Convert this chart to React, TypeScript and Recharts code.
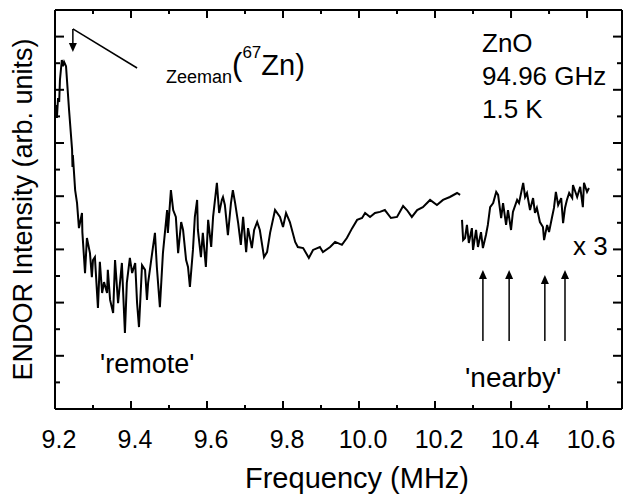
import React from 'react';
import { ComposedChart, Line, XAxis, YAxis, ReferenceLine, ReferenceDot } from 'recharts';

const FONT = '"Liberation Sans", Arial, Helvetica, sans-serif';

// 'remote' part of the ENDOR spectrum (MHz, arb. units)
const remoteFreq = [
  9.203, 9.205, 9.208, 9.211, 9.213, 9.218, 9.221, 9.224, 9.229, 9.237,
  9.245, 9.246, 9.247, 9.253, 9.258, 9.263, 9.271, 9.272, 9.279, 9.284,
  9.292, 9.297, 9.300, 9.305, 9.313, 9.318, 9.324, 9.329, 9.337, 9.339,
  9.345, 9.353, 9.358, 9.366, 9.376, 9.384, 9.389, 9.397, 9.403, 9.411,
  9.416, 9.421, 9.429, 9.437, 9.442, 9.445, 9.455, 9.463, 9.468, 9.476,
  9.484, 9.495, 9.497, 9.505, 9.511, 9.518, 9.524, 9.532, 9.537, 9.545,
  9.550, 9.555, 9.563, 9.568, 9.574, 9.576, 9.584, 9.589, 9.597, 9.603,
  9.611, 9.616, 9.626, 9.632, 9.639, 9.642, 9.647, 9.655, 9.663, 9.668,
  9.674, 9.682, 9.689, 9.695, 9.703, 9.708, 9.718, 9.724, 9.732, 9.739,
  9.750, 9.758, 9.766, 9.779, 9.792, 9.800, 9.808, 9.818, 9.832, 9.839,
  9.853, 9.868, 9.879, 9.897, 9.905, 9.924, 9.937, 9.955, 9.968, 9.982,
  9.995, 10.008, 10.016, 10.029, 10.042, 10.055, 10.068, 10.084, 10.100, 10.116,
  10.126, 10.139, 10.153, 10.168, 10.187, 10.205, 10.221, 10.239, 10.258, 10.266,
];
const remoteIntensity = [
  11.43, 10.94, 11.69, 11.54, 12.37, 13.12, 12.89, 13.05, 12.89, 11.24,
  9.74, 9.10, 9.55, 8.23, 7.74, 6.80, 7.37, 6.65, 5.11, 6.43,
  5.86, 4.96, 5.60, 5.71, 3.80, 5.53, 4.36, 4.77, 4.36, 5.23,
  4.10, 3.61, 5.60, 3.98, 5.49, 2.86, 4.74, 5.68, 5.11, 5.49,
  3.98, 3.08, 5.41, 5.23, 4.10, 4.74, 5.79, 6.62, 5.34, 3.83,
  5.86, 7.48, 6.62, 8.23, 7.48, 7.22, 5.86, 7.03, 6.73, 5.60,
  5.34, 4.59, 5.98, 7.22, 7.86, 6.73, 5.71, 6.62, 5.34, 7.11,
  6.09, 7.22, 8.50, 7.37, 7.86, 7.97, 7.67, 6.54, 7.74, 8.23,
  7.74, 6.99, 6.17, 7.22, 5.90, 6.80, 6.05, 6.73, 7.03, 6.73,
  5.71, 5.90, 6.62, 7.48, 7.22, 6.84, 7.37, 7.03, 6.28, 6.09,
  6.05, 5.68, 5.98, 6.09, 5.90, 6.09, 6.28, 6.17, 6.43, 6.80,
  7.11, 7.18, 7.37, 7.22, 7.37, 7.41, 7.48, 7.18, 7.22, 7.63,
  7.48, 7.22, 7.48, 7.59, 7.86, 7.67, 7.86, 7.97, 8.12, 8.05,
];

// 'nearby' part, shown magnified x 3
const nearbyFreq = [
  10.271, 10.274, 10.279, 10.284, 10.289, 10.297, 10.300, 10.308, 10.313, 10.321,
  10.326, 10.334, 10.339, 10.345, 10.353, 10.361, 10.366, 10.374, 10.379, 10.387,
  10.392, 10.400, 10.405, 10.416, 10.421, 10.432, 10.437, 10.442, 10.450, 10.458,
  10.463, 10.468, 10.476, 10.484, 10.487, 10.495, 10.500, 10.508, 10.513, 10.518,
  10.524, 10.532, 10.537, 10.542, 10.547, 10.553, 10.561, 10.563, 10.574, 10.582,
  10.589, 10.592, 10.600, 10.605,
];
const nearbyIntensityX3 = [
  7.11, 6.35, 6.43, 6.92, 6.24, 6.80, 5.98, 6.73, 6.09, 6.65,
  6.05, 6.54, 6.92, 7.59, 7.74, 8.16, 8.05, 7.18, 7.74, 6.92,
  7.48, 6.73, 7.41, 7.86, 7.74, 8.50, 7.97, 8.12, 7.48, 7.93,
  7.37, 7.56, 7.03, 6.84, 6.35, 6.92, 6.65, 7.22, 7.56, 8.16,
  7.67, 7.93, 6.99, 7.56, 7.86, 8.12, 7.93, 8.42, 7.97, 8.35,
  7.59, 8.50, 8.16, 8.31,
];

const xTicks = [9.2, 9.3, 9.4, 9.5, 9.6, 9.7, 9.8, 9.9, 10.0, 10.1, 10.2, 10.3, 10.4, 10.5, 10.6];
const yTicks = [0, 1, 2, 3, 4, 5, 6, 7, 8, 9, 10, 11, 12, 13, 14, 15];
const xDomain = [9.2, 10.692];
const yDomain = [0, 15];

// annotation arrows
const zeemanFreq = [9.416, 9.247, 9.247];
const zeemanLevel = [12.82, 14.29, 13.42];
const nearbyArrowFreq = [10.326, 10.395, 10.489, 10.542];
const nearbyArrowTip = [5.23, 5.23, 5.04, 5.23];
const nearbyArrowBase = [2.56, 2.56, 2.56, 2.56];

const remoteData = remoteFreq.map((f, i) => ({ f, v: remoteIntensity[i] }));
const nearbyData = nearbyFreq.map((f, i) => ({ f, v: nearbyIntensityX3[i] }));

const isMajorX = (v: number) => Math.round(v * 10) % 2 === 0;

const BottomTick = (props: any) => {
  const { x, y, payload } = props;
  const v = payload.value;
  const major = isMajorX(v);
  return (
    <g>
      <line x1={x} x2={x} y1={y} y2={y - (major ? 8 : 4)} stroke="#000" strokeWidth={2} />
      {major && (
        <text x={x + 4} y={y + 39} textAnchor="middle" fontSize={25} fontFamily={FONT} fill="#000">
          {v.toFixed(1)}
        </text>
      )}
    </g>
  );
};

const TopTick = (props: any) => {
  const { x, y, payload } = props;
  const major = isMajorX(payload.value);
  return <line x1={x} x2={x} y1={y} y2={y + (major ? 8 : 4)} stroke="#000" strokeWidth={2} />;
};

const LeftTick = (props: any) => {
  const { x, y, payload } = props;
  const major = payload.value % 2 === 0;
  return <line x1={x} x2={x + (major ? 9 : 5)} y1={y} y2={y} stroke="#000" strokeWidth={2} />;
};

const RightTick = (props: any) => {
  const { x, y, payload } = props;
  const major = payload.value % 2 === 0;
  return <line x1={x} x2={x - (major ? 9 : 5)} y1={y} y2={y} stroke="#000" strokeWidth={2} />;
};

const YTitle = (props: any) => {
  const vb = props.viewBox || { x: 0, y: 10, width: 55, height: 399 };
  const cx = vb.x + 32;
  const cy = vb.y + vb.height / 2;
  return (
    <text x={cx} y={cy} transform={`rotate(-90, ${cx}, ${cy})`} textAnchor="middle" fontSize={27} fontFamily={FONT} fill="#000">
      ENDOR Intensity (arb. units)
    </text>
  );
};

const XTitle = (props: any) => {
  const vb = props.viewBox || { x: 55, y: 409, width: 567, height: 88 };
  return (
    <text x={vb.x + 302} y={vb.y + 79} textAnchor="middle" fontSize={29} fontFamily={FONT} fill="#000">
      Frequency (MHz)
    </text>
  );
};

const UpHead = (p: any) => (
  <path d={`M${p.cx},${p.cy} L${p.cx - 4},${p.cy + 9} L${p.cx + 4},${p.cy + 9} Z`} fill="#000" />
);
const DownHead = (p: any) => (
  <path d={`M${p.cx},${p.cy} L${p.cx - 4},${p.cy - 9} L${p.cx + 4},${p.cy - 9} Z`} fill="#000" />
);

export default function App() {
  return (
    <div style={{ position: 'absolute', left: 0, top: 0, width: 624, height: 497, background: '#fff' }}>
      <ComposedChart width={624} height={497} margin={{ top: 0, right: 0, bottom: 0, left: 0 }}>
        <XAxis
          xAxisId="b"
          dataKey="f"
          type="number"
          domain={xDomain}
          ticks={xTicks}
          interval={0}
          allowDataOverflow
          height={88}
          tickSize={0}
          tickMargin={0}
          tick={<BottomTick />}
          tickLine={false}
          axisLine={{ stroke: '#000', strokeWidth: 2 }}
          label={{ value: 'Frequency (MHz)', content: <XTitle /> }}
        />
        <XAxis
          xAxisId="t"
          orientation="top"
          dataKey="f"
          type="number"
          domain={xDomain}
          ticks={xTicks}
          interval={0}
          allowDataOverflow
          height={10}
          tickSize={0}
          tickMargin={0}
          tick={<TopTick />}
          tickLine={false}
          axisLine={{ stroke: '#000', strokeWidth: 2 }}
        />
        <YAxis
          yAxisId="l"
          type="number"
          domain={yDomain}
          ticks={yTicks}
          interval={0}
          allowDataOverflow
          width={55}
          tickSize={0}
          tickMargin={0}
          tick={<LeftTick />}
          tickLine={false}
          axisLine={{ stroke: '#000', strokeWidth: 2 }}
          label={{ value: 'ENDOR Intensity (arb. units)', content: <YTitle /> }}
        />
        <YAxis
          yAxisId="r"
          orientation="right"
          type="number"
          domain={yDomain}
          ticks={yTicks}
          interval={0}
          allowDataOverflow
          width={2}
          tickSize={0}
          tickMargin={0}
          tick={<RightTick />}
          tickLine={false}
          axisLine={{ stroke: '#000', strokeWidth: 2 }}
        />
        <Line
          xAxisId="b"
          yAxisId="l"
          data={remoteData}
          dataKey="v"
          type="linear"
          stroke="#000"
          strokeWidth={2}
          dot={false}
          activeDot={false}
          isAnimationActive={false}
        />
        <Line
          xAxisId="b"
          yAxisId="l"
          data={nearbyData}
          dataKey="v"
          type="linear"
          stroke="#000"
          strokeWidth={2}
          dot={false}
          activeDot={false}
          isAnimationActive={false}
        />
        <ReferenceLine
          xAxisId="b"
          yAxisId="l"
          segment={[{ x: zeemanFreq[0], y: zeemanLevel[0] }, { x: zeemanFreq[1], y: zeemanLevel[1] }]}
          stroke="#000"
          strokeWidth={1.5}
        />
        <ReferenceLine
          xAxisId="b"
          yAxisId="l"
          segment={[{ x: zeemanFreq[1], y: zeemanLevel[1] }, { x: zeemanFreq[2], y: zeemanLevel[2] + 0.2 }]}
          stroke="#000"
          strokeWidth={1.5}
        />
        <ReferenceDot xAxisId="b" yAxisId="l" x={zeemanFreq[2]} y={zeemanLevel[2]} r={0} shape={DownHead} />
        {nearbyArrowFreq.map((f, i) => (
          <ReferenceLine
            key={`al${i}`}
            xAxisId="b"
            yAxisId="l"
            segment={[{ x: f, y: nearbyArrowBase[i] }, { x: f, y: nearbyArrowTip[i] - 0.2 }]}
            stroke="#000"
            strokeWidth={1.5}
          />
        ))}
        {nearbyArrowFreq.map((f, i) => (
          <ReferenceDot key={`ah${i}`} xAxisId="b" yAxisId="l" x={f} y={nearbyArrowTip[i]} r={0} shape={UpHead} />
        ))}
      </ComposedChart>
      <svg
        width={624}
        height={497}
        style={{ position: 'absolute', left: 0, top: 0, pointerEvents: 'none' }}
        fontFamily={FONT}
        fill="#000"
      >
        <text x={482} y={52} fontSize={26}>ZnO</text>
        <text x={482} y={85} fontSize={26}>94.96 GHz</text>
        <text x={482} y={118} fontSize={26}>1.5 K</text>
        <text x={166} y={83} fontSize={18}>
          Zeeman
          <tspan fontSize={31} dy={-8}>(</tspan>
          <tspan fontSize={17} dy={-17}>67</tspan>
          <tspan fontSize={29} dy={17}>Zn)</tspan>
        </text>
        <text x={100} y={373} fontSize={27}>'remote'</text>
        <text x={465} y={387} fontSize={28}>'nearby'</text>
        <text x={573} y={255} fontSize={26}>x 3</text>
      </svg>
    </div>
  );
}
